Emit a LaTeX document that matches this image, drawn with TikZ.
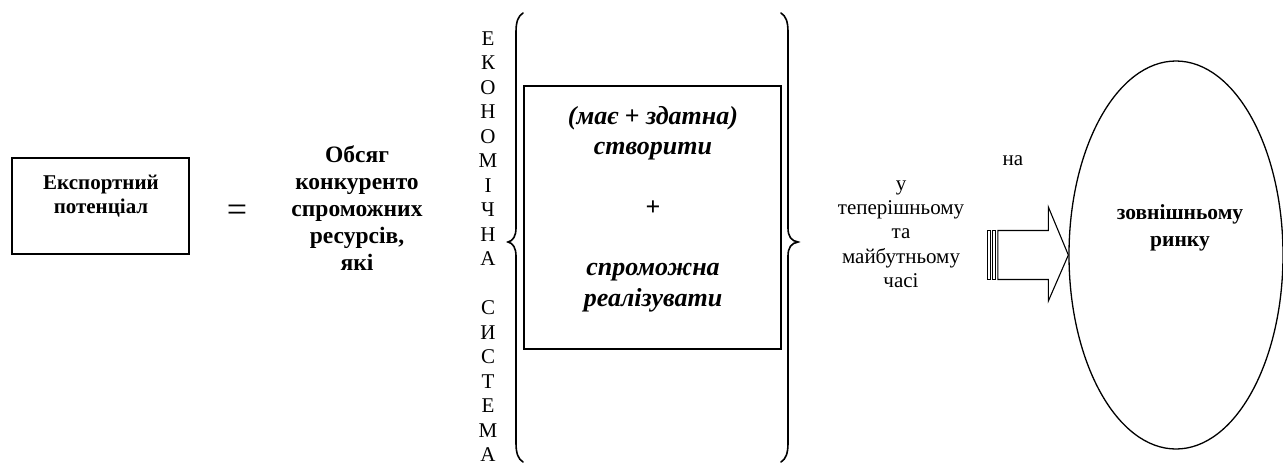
\documentclass[tikz,border=0pt]{standalone}
\usepackage{fontspec}
\setmainfont{Liberation Serif}
\usetikzlibrary{shapes.geometric}
\tikzset{
  frame/.style={draw, line width=1.3pt},
  txt/.style={align=center, inner sep=0pt},
  brc/.style={line width=1.6pt, line cap=round},
  blk/.style={draw, line width=1.1pt, fill=white, line join=miter}
}
\begin{document}
\begin{tikzpicture}[x=1pt, y=-1pt]
\useasboundingbox (0,0) rectangle (1283,464);
% left box
\node[frame, minimum width=177pt, minimum height=96pt, inner sep=0pt] (ep) at (100.5,206) {};
\node[txt, font=\bfseries\fontsize{21}{24}\selectfont] (eptxt) at (101,196) {Експортний\\потенціал};
% equals
\node[txt, font=\fontsize{36}{36}\selectfont] (eq) at (237,213) {=};
% obsyag
\node[txt, font=\bfseries\fontsize{23.5}{27}\selectfont] (obs) at (357,208) {Обсяг\\конкуренто\\спроможних\\ресурсів,\\які};
% vertical letters
\node[txt, font=\fontsize{21}{24.5}\selectfont] (es) at (488,246.5) {Е\\К\\О\\Н\\О\\М\\І\\Ч\\Н\\А\\\mbox{}\\С\\И\\С\\Т\\Е\\М\\А};
% braces
\draw[brc] (523,13) .. controls (518,16) and (516,22) .. (516,32) -- (516,228)
  .. controls (516,236) and (513,241) .. (508,242)
  .. controls (513,243) and (516,248) .. (516,256) -- (516,443)
  .. controls (516,453) and (518,459) .. (523,462);
\draw[brc] (781,13) .. controls (786,16) and (788,22) .. (788,32) -- (788,228)
  .. controls (788,236) and (791,241) .. (798,242)
  .. controls (791,243) and (788,248) .. (788,256) -- (788,443)
  .. controls (788,453) and (786,459) .. (781,462);
% inner box
\node[frame, line width=1.5pt, minimum width=257pt, minimum height=263pt, inner sep=0pt] (ib) at (652.5,217.5) {};
\node[txt, font=\bfseries\itshape\fontsize{26}{30.3}\selectfont] (ibtxt) at (653,209) {(має + здатна)\\створити\\\mbox{}\\{\upshape +}\\\mbox{}\\спроможна\\реалізувати};
% right texts
\node[txt, font=\fontsize{21}{24.3}\selectfont] (na) at (1013,161) {на};
\node[txt, font=\fontsize{21}{24.3}\selectfont] (time) at (901,234) {у\\теперішньому\\та\\майбутньому\\часі};
% ellipse
\node[draw, ellipse, line width=1.3pt, minimum width=214pt, minimum height=388pt, inner sep=0pt] (mkt) at (1176,255) {};
\node[txt, font=\bfseries\fontsize{21.5}{27}\selectfont] (mkttxt) at (1180,228) {зовнішньому\\ринку};
% striped arrow into the ellipse
\coordinate (tip) at (mkt.west);
\draw[blk] ([xshift=-81pt,yshift=-24.5pt]tip) rectangle ([xshift=-78pt,yshift=24.5pt]tip);
\draw[blk] ([xshift=-76pt,yshift=-24.5pt]tip) rectangle ([xshift=-72.5pt,yshift=24.5pt]tip);
\draw[blk] ([xshift=-70.5pt,yshift=-24.5pt]tip) -- ([xshift=-20pt,yshift=-24.5pt]tip)
  -- ([xshift=-20pt,yshift=-46pt]tip) -- (tip) -- ([xshift=-20pt,yshift=48pt]tip)
  -- ([xshift=-20pt,yshift=24.5pt]tip) -- ([xshift=-70.5pt,yshift=24.5pt]tip) -- cycle;
\end{tikzpicture}
\end{document}
